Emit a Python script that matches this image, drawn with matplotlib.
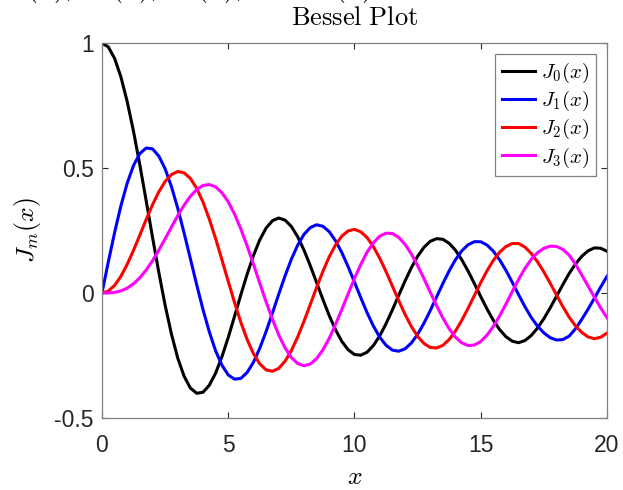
import numpy as np
import matplotlib.pyplot as plt

plt.rcParams['mathtext.fontset'] = 'cm'
plt.rcParams['font.family'] = ['Liberation Sans', 'DejaVu Sans']

# curve values, step 0.25 in x
x_vals = [0.0, 0.25, 0.5, 0.75, 1.0, 1.25, 1.5, 1.75, 2.0, 2.25, 2.5, 2.75,
          3.0, 3.25, 3.5, 3.75, 4.0, 4.25, 4.5, 4.75, 5.0, 5.25, 5.5, 5.75,
          6.0, 6.25, 6.5, 6.75, 7.0, 7.25, 7.5, 7.75, 8.0, 8.25, 8.5, 8.75,
          9.0, 9.25, 9.5, 9.75, 10.0, 10.25, 10.5, 10.75, 11.0, 11.25, 11.5,
          11.75, 12.0, 12.25, 12.5, 12.75, 13.0, 13.25, 13.5, 13.75, 14.0,
          14.25, 14.5, 14.75, 15.0, 15.25, 15.5, 15.75, 16.0, 16.25, 16.5,
          16.75, 17.0, 17.25, 17.5, 17.75, 18.0, 18.25, 18.5, 18.75, 19.0,
          19.25, 19.5, 19.75, 20.0]

j0 = [1.0, 0.9844, 0.9385, 0.8642, 0.7652, 0.6459, 0.5118, 0.3690, 0.2239,
      0.0830, -0.0484, -0.1638, -0.2601, -0.3323, -0.3801, -0.4009, -0.3971,
      -0.3688, -0.3205, -0.2549, -0.1776, -0.0931, -0.0068, 0.0757, 0.1506,
      0.2127, 0.2601, 0.2891, 0.3001, 0.2916, 0.2663, 0.2250, 0.1717, 0.1092,
      0.0419, -0.0258, -0.0903, -0.1471, -0.1939, -0.2270, -0.2459, -0.2486,
      -0.2366, -0.2098, -0.1712, -0.1226, -0.0677, -0.0097, 0.0477, 0.1008,
      0.1469, 0.1826, 0.2069, 0.2174, 0.2150, 0.1988, 0.1711, 0.1329, 0.0875,
      0.0374, -0.0142, -0.0640, -0.1092, -0.1465, -0.1749, -0.1928, -0.1988,
      -0.1901, -0.1699, -0.1400, -0.1026, -0.0595, -0.0134, 0.0334, 0.0777,
      0.1157, 0.1466, 0.1687, 0.1805, 0.1792, 0.1670]

j1 = [0.0, 0.1240, 0.2423, 0.3492, 0.4401, 0.5104, 0.5579, 0.5800, 0.5767,
      0.5479, 0.4971, 0.4257, 0.3391, 0.2411, 0.1374, 0.0334, -0.0660,
      -0.1552, -0.2311, -0.2888, -0.3276, -0.3446, -0.3414, -0.3176, -0.2767,
      -0.2205, -0.1538, -0.0803, -0.0047, 0.0684, 0.1352, 0.1912, 0.2346,
      0.2618, 0.2731, 0.2669, 0.2453, 0.2089, 0.1613, 0.1048, 0.0435, -0.0189,
      -0.0789, -0.1323, -0.1768, -0.2090, -0.2284, -0.2327, -0.2234, -0.2001,
      -0.1655, -0.1211, -0.0703, -0.0162, 0.0380, 0.0887, 0.1334, 0.1686,
      0.1934, 0.2054, 0.2051, 0.1917, 0.1672, 0.1325, 0.0904, 0.0427, -0.0068,
      -0.0545, -0.0977, -0.1325, -0.1595, -0.1786, -0.1880, -0.1863, -0.1726,
      -0.1435, -0.1057, -0.0647, -0.0210, 0.0238, 0.0668]

j2 = [0.0, 0.0078, 0.0306, 0.0670, 0.1149, 0.1711, 0.2321, 0.2940, 0.3528,
      0.4045, 0.4461, 0.4737, 0.4861, 0.4808, 0.4586, 0.4188, 0.3641, 0.2957,
      0.2178, 0.1333, 0.0466, -0.0382, -0.1173, -0.1863, -0.2429, -0.2834,
      -0.3074, -0.3129, -0.3014, -0.2728, -0.2302, -0.1756, -0.1130, -0.0456,
      0.0224, 0.0869, 0.1448, 0.1923, 0.2279, 0.2485, 0.2546, 0.2449, 0.2216,
      0.1852, 0.1391, 0.0855, 0.0280, -0.0299, -0.0849, -0.1334, -0.1734,
      -0.2016, -0.2177, -0.2199, -0.2094, -0.1859, -0.1520, -0.1092, -0.0608,
      -0.0095, 0.0415, 0.0891, 0.1308, 0.1633, 0.1862, 0.1980, 0.1980, 0.1836,
      0.1584, 0.1247, 0.0844, 0.0394, -0.0075, -0.0539, -0.0964, -0.1310,
      -0.1577, -0.1754, -0.1827, -0.1769, -0.1603]

j3 = [0.0, 0.0003, 0.0026, 0.0085, 0.0196, 0.0370, 0.0610, 0.0920, 0.1289,
      0.1713, 0.2167, 0.2635, 0.3091, 0.3510, 0.3868, 0.4137, 0.4302, 0.4339,
      0.4247, 0.4012, 0.3648, 0.3155, 0.2561, 0.1880, 0.1148, 0.0391, -0.0354,
      -0.1052, -0.1676, -0.2191, -0.2581, -0.2820, -0.2911, -0.2840, -0.2626,
      -0.2272, -0.1809, -0.1257, -0.0653, -0.0028, 0.0584, 0.1146, 0.1633,
      0.2012, 0.2274, 0.2394, 0.2381, 0.2226, 0.1951, 0.1565, 0.1100, 0.0578,
      0.0033, -0.0502, -0.1000, -0.1428, -0.1768, -0.1993, -0.2102, -0.2080,
      -0.1940, -0.1683, -0.1334, -0.0910, -0.0438, 0.0061, 0.0548, 0.0983,
      0.1350, 0.1614, 0.1788, 0.1874, 0.1863, 0.1745, 0.1518, 0.1156, 0.0725,
      0.0282, -0.0165, -0.0597, -0.0989]

series = [j0, j1, j2, j3]
colors = ['black', 'blue', 'red', 'magenta']
labels = [r'$J_0(x)$', r'$J_1(x)$', r'$J_2(x)$', r'$J_3(x)$']
x_ticks = [0, 5, 10, 15, 20]
y_ticks = [-0.5, 0, 0.5, 1]
y_ticklabels = ['-0.5', '0', '0.5', '1']

fig = plt.figure(figsize=(6.23, 4.9), dpi=100)
ax = fig.add_axes([0.1637, 0.1469, 0.8106, 0.7653])

for ys, c, lab in zip(series, colors, labels):
    ax.plot(x_vals, ys, color=c, linewidth=2.2, label=lab)

ax.set_xlim(0, 20)
ax.set_ylim(-0.5, 1)
ax.set_xticks(x_ticks)
ax.set_yticks(y_ticks)
ax.set_yticklabels(y_ticklabels)
ax.tick_params(direction='in', length=4, width=0.8, color='#262626',
               labelsize=16.5, labelcolor='#262626', top=True, right=True)
ax.tick_params(axis='x', pad=11.5)
ax.tick_params(axis='y', pad=6)
for sp in ax.spines.values():
    sp.set_color('#808080')
    sp.set_linewidth(0.9)

ax.set_xlabel(r'$x$', fontsize=18.5, labelpad=6)
ax.set_ylabel(r'$J_m(x)$', fontsize=18.5, labelpad=8)
ax.set_title(r'$\mathrm{Bessel\ Plot}$', fontsize=19, pad=13)

# first title line, mostly cut off by the top edge
fig.text(0.0, 1.008, r'$J_0(x),\ J_1(x),\ J_2(x),\ \mathrm{and}\ J_3(x)$',
         fontsize=20, ha='left', va='baseline')

leg = ax.legend(loc='upper right', fontsize=15, frameon=True, fancybox=False,
                edgecolor='#808080', framealpha=1, handlelength=1.6,
                handletextpad=0.3, labelspacing=0.2, borderpad=0.3,
                borderaxespad=0.55)
leg.get_frame().set_linewidth(0.9)

fig.savefig('out.png', dpi=100)
